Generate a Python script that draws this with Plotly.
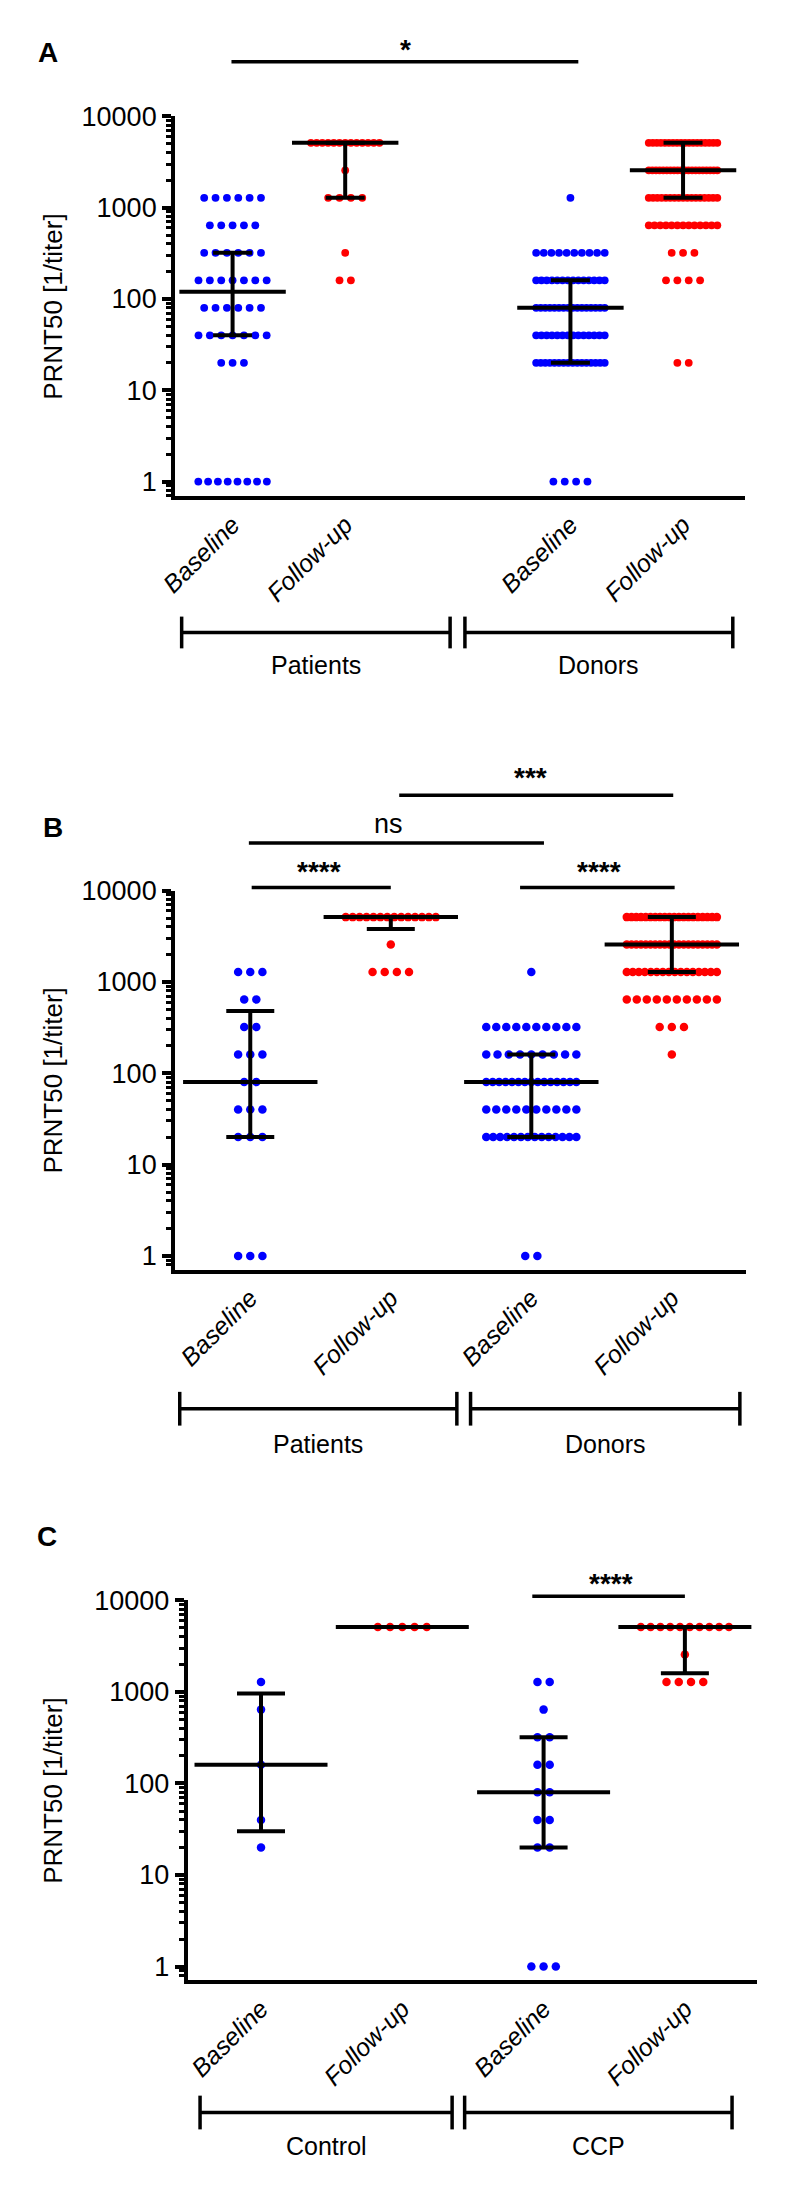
import numpy as np
import plotly.graph_objects as go

# The page body keeps the browser's default 8px margin, so the figure is drawn
# 8px in from the top-left corner; all pixel positions below are page positions.
PAGE_W, PAGE_H, BODY_MARGIN = 789, 2191, 8
W, H = PAGE_W - 2 * BODY_MARGIN, PAGE_H - 2 * BODY_MARGIN
FONT = "Liberation Sans, Arial, Helvetica, sans-serif"
BLUE, RED, BLACK = "#0000ff", "#ff0000", "#000000"

# ---------------- data (titer levels and number of subjects at each level) ----------------
CATS = ["Baseline", "Follow-up", "Baseline", "Follow-up"]

# Panel A
A_pat_base_titer = [1280, 640, 320, 160, 80, 40, 20, 1]
A_pat_base_n     = [6, 5, 6, 7, 6, 7, 3, 8]
A_pat_fu_titer   = [5120, 2560, 1280, 320, 160]
A_pat_fu_n       = [13, 1, 4, 1, 2]
A_don_base_titer = [1280, 320, 160, 80, 40, 20, 1]
A_don_base_n     = [1, 10, 14, 16, 14, 16, 4]
A_don_fu_titer   = [5120, 2560, 1280, 640, 320, 160, 20]
A_don_fu_n       = [18, 20, 17, 13, 3, 4, 2]
A_median = [120, 5120, 80, 2560]
A_lower  = [40, 1280, 20, 1280]
A_upper  = [320, 5120, 160, 5120]
A_groups = ["Patients", "Donors"]

# Panel B
B_pat_base_titer = [1280, 640, 320, 160, 80, 40, 20, 1]
B_pat_base_n     = [3, 2, 2, 3, 2, 3, 3, 3]
B_pat_fu_titer   = [5120, 2560, 1280]
B_pat_fu_n       = [14, 1, 4]
B_don_base_titer = [1280, 320, 160, 80, 40, 20, 1]
B_don_base_n     = [1, 10, 9, 15, 10, 14, 2]
B_don_fu_titer   = [5120, 2560, 1280, 640, 320, 160]
B_don_fu_n       = [20, 20, 16, 10, 3, 1]
B_median = [80, 5120, 80, 2560]
B_lower  = [20, 3800, 20, 1280]
B_upper  = [480, 5120, 160, 5120]
B_groups = ["Patients", "Donors"]

# Panel C
C_ctrl_base_titer = [1280, 640, 160, 40, 20]
C_ctrl_base_n     = [1, 1, 1, 1, 1]
C_ctrl_fu_titer   = [5120]
C_ctrl_fu_n       = [5]
C_ccp_base_titer  = [1280, 640, 320, 160, 80, 40, 20, 1]
C_ccp_base_n      = [2, 1, 2, 2, 2, 2, 2, 3]
C_ccp_fu_titer    = [5120, 2560, 1280]
C_ccp_fu_n        = [10, 1, 4]
C_median = [160, 5120, 80, 5120]
C_lower  = [30, 5120, 20, 1600]
C_upper  = [960, 5120, 320, 5120]
C_groups = ["Control", "CCP"]

Y_TICKS = [1, 10, 100, 1000, 10000]
Y_TITLE = "PRNT50 [1/titer]"

# ---------------- layout helpers (page pixels -> paper fractions) ----------------
def py(y):
    return 1 - (y - BODY_MARGIN) / H

def pxx(x):
    return (x - BODY_MARGIN) / W

panels = [
    dict(letter="A", sfx="", xpx=(162, 744), ypx=(102, 485), xr=[-0.513, 4.548], yr=[-0.163, 4.0],
         pos=[0, 1, 3, 4],
         groups=[(A_pat_base_titer, A_pat_base_n, BLUE), (A_pat_fu_titer, A_pat_fu_n, RED),
                 (A_don_base_titer, A_don_base_n, BLUE), (A_don_fu_titer, A_don_fu_n, RED)],
         med=A_median, lo=A_lower, hi=A_upper, glabels=A_groups,
         dot=7.8, spacing=11.6, maxw=70, medw=76, cap=19.5,
         letter_xy=(33, 38),
         brackets=[(0.012, 0.483), (0.509, 0.979)], br_y=622, br_h=16, gl_y=655,
         sig=[(-0.01, 3.07, 47, "*", 398, 35)]),
    dict(letter="B", sfx="2", xpx=(162, 745), ypx=(882, 1264), xr=[-0.537, 3.526], yr=[-0.152, 4.0],
         pos=[0, 1, 2, 3],
         groups=[(B_pat_base_titer, B_pat_base_n, BLUE), (B_pat_fu_titer, B_pat_fu_n, RED),
                 (B_don_base_titer, B_don_base_n, BLUE), (B_don_fu_titer, B_don_fu_n, RED)],
         med=B_median, lo=B_lower, hi=B_upper, glabels=B_groups,
         dot=8.5, spacing=12.4, maxw=92, medw=96, cap=24,
         letter_xy=(38, 818),
         brackets=[(0.0086, 0.494), (0.518, 0.9897)], br_y=1404, br_h=17, gl_y=1440,
         sig=[(1.06, 3.01, 786, "***", 525, 768),
              (-0.01, 2.09, 834, "ns", 380, 815),
              (0.01, 1.0, 879, "****", 309, 863),
              (1.92, 3.02, 879, "****", 595, 863)]),
    dict(letter="C", sfx="3", xpx=(175, 756), ypx=(1597, 1980), xr=[-0.52, 3.507], yr=[-0.152, 4.0],
         pos=[0, 1, 2, 3],
         groups=[(C_ctrl_base_titer, C_ctrl_base_n, BLUE), (C_ctrl_fu_titer, C_ctrl_fu_n, RED),
                 (C_ccp_base_titer, C_ccp_base_n, BLUE), (C_ccp_fu_titer, C_ccp_fu_n, RED)],
         med=C_median, lo=C_lower, hi=C_upper, glabels=C_groups,
         dot=8.5, spacing=12.5, maxw=90, medw=95, cap=24,
         letter_xy=(31, 1533),
         brackets=[(0.022, 0.465), (0.487, 0.957)], br_y=2113, br_h=17, gl_y=2147,
         sig=[(1.92, 3.0, 1593, "****", 607, 1580)]),
]

MINOR = [k * 10 ** d for d in range(-1, 4) for k in range(2, 10)]
MINOR = [v for v in MINOR if 0.7 <= v < 10000]

fig = go.Figure()
annotations, shapes = [], []

for p in panels:
    xa, ya = "x" + p["sfx"], "y" + p["sfx"]
    unit = (p["xpx"][1] - p["xpx"][0]) / (p["xr"][1] - p["xr"][0])  # px per category unit
    sp, mw = p["spacing"] / unit, p["maxw"] / unit
    # dots, arranged in horizontal rows per titer level
    for (titers, counts, color), c in zip(p["groups"], p["pos"]):
        xs, ys = [], []
        for t, n in zip(titers, counts):
            w = min((n - 1) * sp, mw)
            offs = np.linspace(-w / 2, w / 2, n) if n > 1 else np.array([0.0])
            xs.extend(c + offs)
            ys.extend([t] * n)
        fig.add_trace(go.Scatter(x=xs, y=ys, mode="markers", xaxis=xa, yaxis=ya,
                                 marker=dict(size=p["dot"], color=color, line=dict(width=0)),
                                 hoverinfo="skip", showlegend=False))
    # median + interquartile range bars
    med, lo, hi = np.array(p["med"], float), np.array(p["lo"], float), np.array(p["hi"], float)
    fig.add_trace(go.Scatter(x=p["pos"], y=med, mode="markers", xaxis=xa, yaxis=ya,
                             marker=dict(symbol="line-ew", size=p["medw"], color=BLACK,
                                         line=dict(width=4, color=BLACK)),
                             error_y=dict(type="data", symmetric=False, array=hi - med,
                                          arrayminus=med - lo, color=BLACK, thickness=4,
                                          width=p["cap"]),
                             hoverinfo="skip", showlegend=False))

    xdom = [pxx(p["xpx"][0]), pxx(p["xpx"][1])]
    ydom = [py(p["ypx"][1]), py(p["ypx"][0])]
    fig.update_layout(**{
        ("xaxis" + p["sfx"]): dict(
            domain=xdom, range=p["xr"], anchor=ya, showline=True, linewidth=3.5, linecolor=BLACK,
            ticks="", tickvals=p["pos"], ticktext=["<i>%s</i>" % c for c in CATS],
            tickangle=-45, tickfont=dict(family=FONT, size=25, color=BLACK),
            showgrid=False, zeroline=False, fixedrange=True),
        ("yaxis" + p["sfx"]): dict(
            domain=ydom, type="log", range=p["yr"], anchor=xa, showline=True, linewidth=3.5,
            linecolor=BLACK, ticks="outside", ticklen=9, tickwidth=3.5, tickcolor=BLACK,
            tickvals=Y_TICKS, ticktext=[str(v) for v in Y_TICKS],
            tickfont=dict(family=FONT, size=27, color=BLACK),
            minor=dict(ticks="outside", ticklen=5, tickwidth=2.5, tickcolor=BLACK,
                       tickvals=MINOR, showgrid=False),
            showgrid=False, zeroline=False, fixedrange=True),
    })

    # panel letter
    lx, ly = p["letter_xy"]
    annotations.append(dict(text="<b>%s</b>" % p["letter"], x=pxx(lx), y=py(ly), xref="paper",
                            yref="paper", showarrow=False, xanchor="center", yanchor="middle",
                            font=dict(family=FONT, size=28, color=BLACK)))
    # y title
    annotations.append(dict(text=Y_TITLE, x=pxx(38), y=py((p["ypx"][0] + p["ypx"][1]) / 2),
                            xref="paper", yref="paper", showarrow=False, textangle=-90,
                            xanchor="center", yanchor="middle",
                            font=dict(family=FONT, size=26, color=BLACK)))
    # group brackets
    for (d0, d1), lab in zip(p["brackets"], p["glabels"]):
        yb, hb = p["br_y"], p["br_h"]
        shapes.append(dict(type="line", xref=xa + " domain", yref="paper", x0=d0, x1=d1,
                           y0=py(yb), y1=py(yb), line=dict(color=BLACK, width=3.5)))
        for d in (d0, d1):
            shapes.append(dict(type="line", xref=xa + " domain", yref="paper", x0=d, x1=d,
                               y0=py(yb - hb), y1=py(yb + hb), line=dict(color=BLACK, width=3.5)))
        annotations.append(dict(text=lab, xref=xa + " domain", yref="paper", x=(d0 + d1) / 2,
                                y=py(p["gl_y"]), showarrow=False, xanchor="center",
                                yanchor="middle", font=dict(family=FONT, size=25, color=BLACK)))
    # significance bars
    for x0, x1, yl, txt, tx, ty in p["sig"]:
        shapes.append(dict(type="line", xref=xa, yref="paper", x0=x0, x1=x1, y0=py(yl), y1=py(yl),
                           line=dict(color=BLACK, width=3.5)))
        if txt == "ns":
            label, size = txt, 27
        else:
            label, size = "<b>%s</b>" % txt, 28
        annotations.append(dict(text=label, x=pxx(tx), y=py(ty), xref="paper", yref="paper",
                                showarrow=False, xanchor="center", yanchor="middle",
                                font=dict(family=FONT, size=size, color=BLACK)))

fig.update_layout(width=W, height=H, margin=dict(l=0, r=0, t=0, b=0),
                  paper_bgcolor="white", plot_bgcolor="white", showlegend=False,
                  annotations=annotations, shapes=shapes, font=dict(family=FONT, color=BLACK))

fig.write_html("out.html")
